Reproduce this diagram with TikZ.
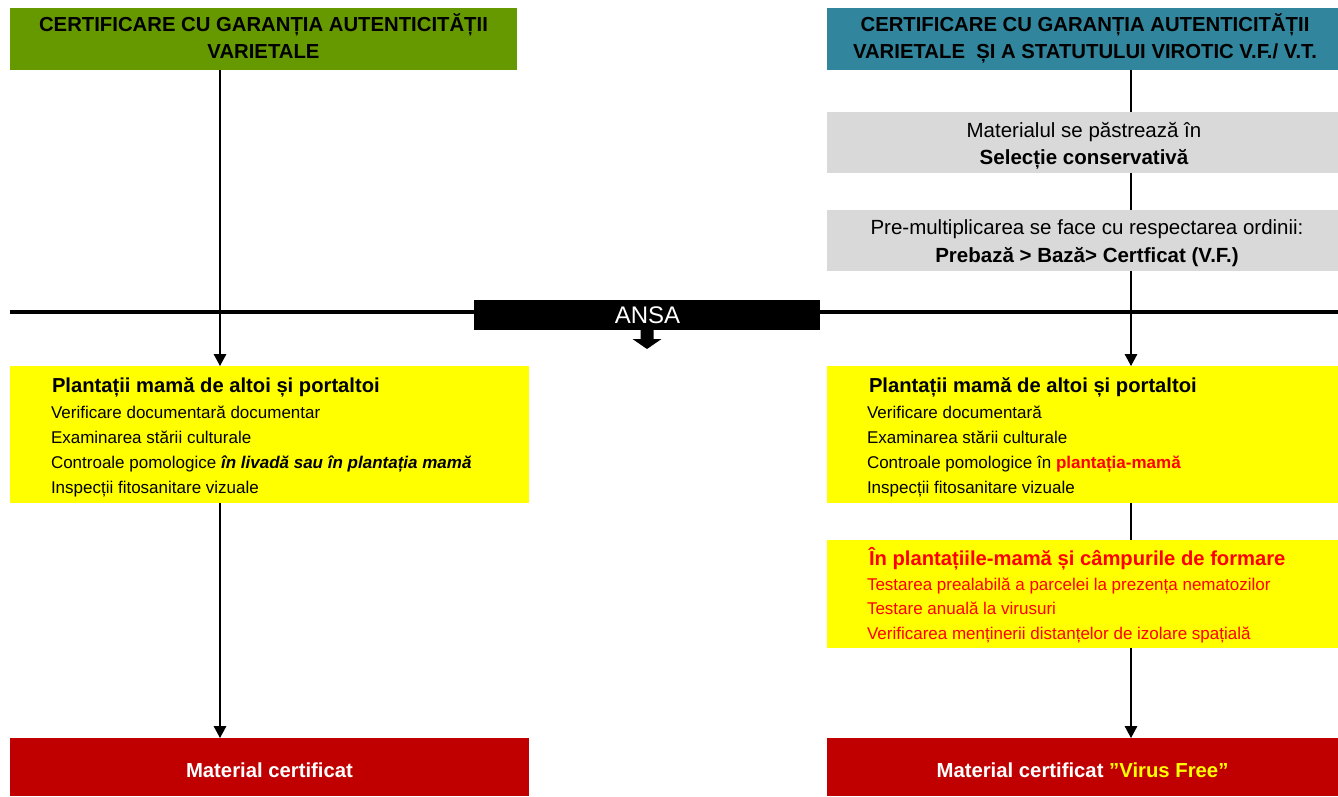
\documentclass[tikz,border=0pt]{standalone}
\usepackage{fontspec}
\setmainfont{Liberation Sans}
\usetikzlibrary{arrows.meta}
\definecolor{hgreen}{HTML}{669900}
\definecolor{hteal}{HTML}{31859C}
\definecolor{hgray}{HTML}{D9D9D9}
\definecolor{hyellow}{HTML}{FFFF00}
\definecolor{hred}{HTML}{C00000}
\definecolor{tred}{HTML}{FF0000}
\begin{document}
\begin{tikzpicture}[x=1pt,y=-1pt,
  box/.style={anchor=north west, inner sep=0pt, outer sep=0pt, draw=none},
  conn/.style={line width=1.6pt, draw=black},
  arr/.style={conn, -{Triangle[length=12pt,width=12.5pt]}},
  txt/.style={inner sep=0pt, outer sep=0pt},
  hdr/.style={txt, anchor=base, font=\fontsize{20.3}{24}\selectfont\bfseries},
  gtxt/.style={txt, anchor=base, font=\fontsize{20.5}{24}\selectfont},
  ytitle/.style={txt, anchor=base west, font=\fontsize{20.2}{24}\selectfont\bfseries},
  yitem/.style={txt, anchor=base west, font=\fontsize{17}{20}\selectfont},
  rtxt/.style={txt, anchor=base, text=white, font=\fontsize{20.3}{24}\selectfont\bfseries}
]
\useasboundingbox (0,0) rectangle (1338,796);
\fill[white] (0,0) rectangle (1338,796);

% guide coordinates
\coordinate (lx) at (220,0);
\coordinate (rx) at (1131,0);
\coordinate (hl) at (10,312);
\coordinate (hr) at (1338,312);

% thick horizontal line
\draw[line width=4.5pt] (hl) -- (hr);

% boxes
\node[box, fill=hgreen, minimum width=507pt, minimum height=62pt] (g) at (10,8) {};
\node[box, fill=hteal, minimum width=511pt, minimum height=62pt] (t) at (827,8) {};
\node[box, fill=hgray, minimum width=511pt, minimum height=61pt] (gr1) at (827,112) {};
\node[box, fill=hgray, minimum width=511pt, minimum height=61pt] (gr2) at (827,210) {};
\node[box, fill=black, minimum width=346pt, minimum height=30pt] (ansa) at (474,300) {};
\node[box, fill=hyellow, minimum width=519pt, minimum height=137pt] (yl) at (10,366) {};
\node[box, fill=hyellow, minimum width=511pt, minimum height=137pt] (yr1) at (827,366) {};
\node[box, fill=hyellow, minimum width=511pt, minimum height=108pt] (yr2) at (827,540) {};
\node[box, fill=hred, minimum width=519pt, minimum height=58pt] (rl) at (10,738) {};
\node[box, fill=hred, minimum width=511pt, minimum height=58pt] (rr) at (827,738) {};

% block arrow under ANSA
\fill[black] ([xshift=-6.5pt]ansa.south) -- ([xshift=6.5pt]ansa.south) -- ++(0,9) -- ++(8,0)
  -- ([yshift=-19pt]ansa.south) -- ([xshift=-14.5pt,yshift=-9pt]ansa.south) -- ++(8,0) -- cycle;

% texts
\node[hdr] (g1) at (263.5,31.5) {CERTIFICARE CU GARANȚIA AUTENTICITĂȚII};
\node[hdr] (g2) at (263.5,58.5) {VARIETALE};
\node[hdr] (t1) at (1085,31.5) {CERTIFICARE CU GARANȚIA AUTENTICITĂȚII};
\node[hdr] (t2) at (1085,58.5) {VARIETALE\ \ ȘI A STATUTULUI VIROTIC V.F./ V.T.};

\node[gtxt] (s1) at (1084,137.5) {Materialul se păstrează în};
\node[gtxt, font=\fontsize{20.5}{24}\selectfont\bfseries] (s2) at (1084,164.5) {Selecție conservativă};
\node[gtxt] (p1) at (1087,234) {Pre-multiplicarea se face cu respectarea ordinii:};
\node[gtxt, font=\fontsize{20.5}{24}\selectfont\bfseries] (p2) at (1087,262) {Prebază > Bază> Certficat (V.F.)};

\node[txt, anchor=base, text=white, font=\fontsize{24}{28}\selectfont] (an) at (647.5,323.5) {ANSA};

\node[ytitle] (l0) at (52,392) {Plantații mamă de altoi și portaltoi};
\node[yitem] (l1) at (51,418) {Verificare documentară documentar};
\node[yitem] (l2) at (51,443.5) {Examinarea stării culturale};
\node[yitem] (l3) at (51,468.5) {Controale pomologice \textbf{\textit{în livadă sau în plantația mamă}}};
\node[yitem] (l4) at (51,493.5) {Inspecții fitosanitare vizuale};

\node[ytitle] (r0) at (869,392) {Plantații mamă de altoi și portaltoi};
\node[yitem] (r1) at (867,418) {Verificare documentară};
\node[yitem] (r2) at (867,443.5) {Examinarea stării culturale};
\node[yitem] (r3) at (867,468.5) {Controale pomologice în \textcolor{tred}{\textbf{plantația-mamă}}};
\node[yitem] (r4) at (867,493.5) {Inspecții fitosanitare vizuale};

\node[ytitle, text=tred] (v0) at (869,565) {În plantațiile-mamă și câmpurile de formare};
\node[yitem, text=tred] (v1) at (867,590) {Testarea prealabilă a parcelei la prezența nematozilor};
\node[yitem, text=tred] (v2) at (867,614.5) {Testare anuală la virusuri};
\node[yitem, text=tred] (v3) at (867,639) {Verificarea menținerii distanțelor de izolare spațială};

\node[rtxt] (m1) at (269.5,777) {Material certificat};
\node[rtxt] (m2) at (1082.5,777) {Material certificat \textcolor{hyellow}{”Virus Free”}};

% connectors
\draw[arr] (g.south -| lx) -- (yl.north -| lx);
\draw[arr] (yl.south -| lx) -- (rl.north -| lx);
\draw[conn] (t.south -| rx) -- (gr1.north -| rx);
\draw[conn] (gr1.south -| rx) -- (gr2.north -| rx);
\draw[arr] (gr2.south -| rx) -- (yr1.north -| rx);
\draw[conn] (yr1.south -| rx) -- (yr2.north -| rx);
\draw[arr] (yr2.south -| rx) -- (rr.north -| rx);
\end{tikzpicture}
\end{document}
